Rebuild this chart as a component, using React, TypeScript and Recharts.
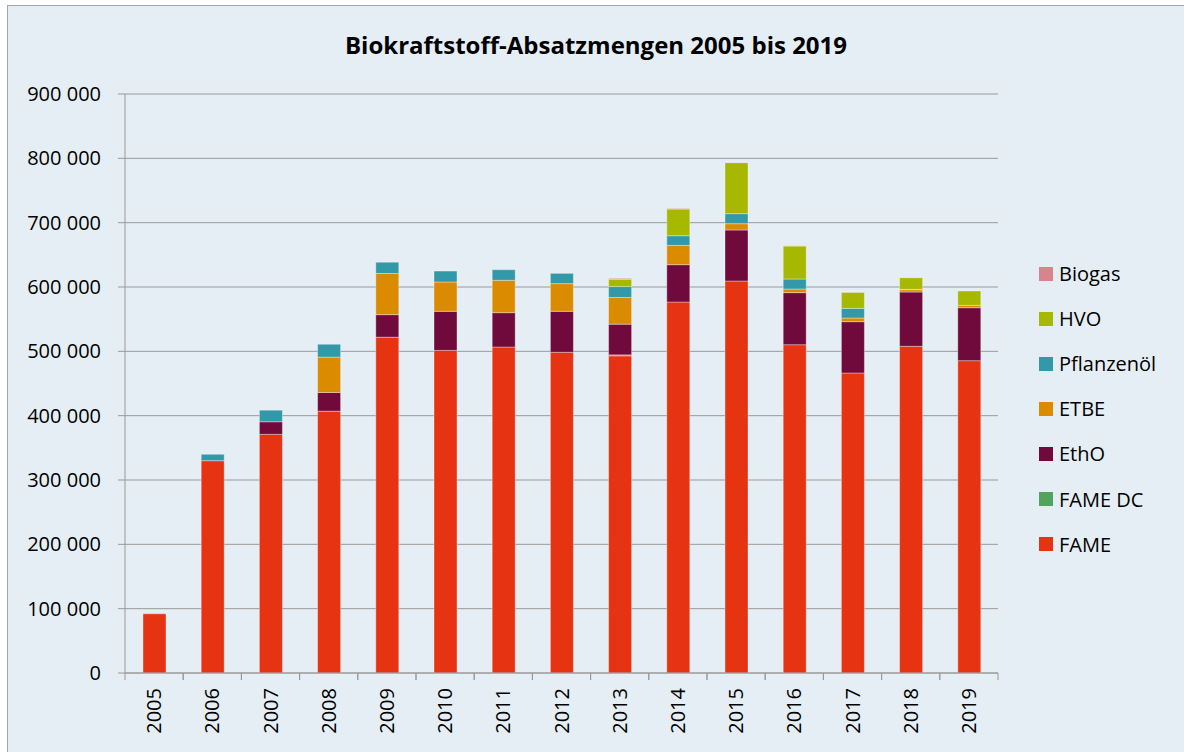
import React from 'react';
import { BarChart, Bar, XAxis, YAxis, CartesianGrid, Legend } from 'recharts';

const years = ['2005','2006','2007','2008','2009','2010','2011','2012','2013','2014','2015','2016','2017','2018','2019'];
const fame = [92000, 330000, 371000, 407000, 522000, 501500, 506700, 498500, 493000, 576700, 609300, 510300, 466300, 507800, 485500];
const fameDc = [0, 0, 0, 0, 0, 0, 0, 0, 1500, 0, 0, 0, 0, 0, 0];
const etho = [0, 0, 19500, 29000, 35000, 60700, 53400, 63700, 47700, 58000, 79300, 80900, 79800, 84400, 82300];
const etbe = [0, 0, 0, 55000, 64000, 45600, 50300, 43000, 41500, 30000, 9800, 5700, 5700, 3600, 3700];
const pflanzenoel = [0, 10000, 18000, 20000, 17500, 17000, 16500, 16000, 17000, 15000, 15600, 15500, 15000, 500, 0];
const hvo = [0, 0, 0, 0, 0, 0, 0, 0, 11300, 41500, 79300, 51300, 25000, 18000, 22300];
const biogas = [0, 0, 0, 0, 0, 0, 0, 0, 1500, 1000, 500, 500, 500, 0, 0];
const yTicks = [0, 100000, 200000, 300000, 400000, 500000, 600000, 700000, 800000, 900000];

const series = [
  { key: 'FAME', name: 'FAME', color: '#E63312', values: fame },
  { key: 'FAMEDC', name: 'FAME DC', color: '#52A35C', values: fameDc },
  { key: 'EthO', name: 'EthO', color: '#700A3C', values: etho },
  { key: 'ETBE', name: 'ETBE', color: '#DB8B00', values: etbe },
  { key: 'Pfl', name: 'Pflanzenöl', color: '#3399A8', values: pflanzenoel },
  { key: 'HVO', name: 'HVO', color: '#A7B800', values: hvo },
  { key: 'Biogas', name: 'Biogas', color: '#D9848A', values: biogas },
];

const data = years.map((y, i) => {
  const row: any = { year: y };
  series.forEach(s => { row[s.key] = s.values[i]; });
  return row;
});

const FONT = '"Open Sans", "Liberation Sans", sans-serif';

const fmt = (v: number) => String(v).replace(/\B(?=(\d{3})+(?!\d))/g, ' ');

const XTick = (props: any) => {
  const { x, y, payload } = props;
  const half = 29.1;
  return (
    <g>
      <line x1={x - half} x2={x - half} y1={y} y2={y + 7} stroke="#999" />
      <line x1={x + half} x2={x + half} y1={y} y2={y + 7} stroke="#999" />
      <text
        transform={`translate(${x + 7},${y + 15}) rotate(-90)`}
        textAnchor="end"
        fontSize={20}
        fontFamily={FONT}
        fill="#000"
      >
        {payload.value}
      </text>
    </g>
  );
};

const LegendContent = () => (
  <div style={{ fontFamily: FONT, fontSize: 20, color: '#000' }}>
    {[...series].reverse().map(s => (
      <div key={s.key} style={{ height: 45.1, display: 'flex', alignItems: 'center' }}>
        <span style={{ width: 14, height: 14, background: s.color, display: 'inline-block', marginRight: 6 }} />
        <span>{s.name}</span>
      </div>
    ))}
  </div>
);

export default function App() {
  return (
    <div
      style={{
        position: 'absolute',
        left: 7,
        top: 5,
        width: 1190,
        height: 760,
        border: '1px solid #A6A6A6',
        background: '#E5EEF4',
      }}
    >
      <div
        style={{
          position: 'absolute',
          left: 0,
          top: 22,
          width: 1176,
          textAlign: 'center',
          fontFamily: FONT,
          fontWeight: 700,
          fontSize: 24,
          color: '#000',
        }}
      >
        Biokraftstoff-Absatzmengen 2005 bis 2019
      </div>
      <BarChart
        width={1176}
        height={746}
        data={data}
        margin={{ top: 88, right: 186, bottom: 9, left: 0 }}
        barSize={23}
      >
        <CartesianGrid vertical={false} stroke="#9a9a9a" />
        <XAxis
          dataKey="year"
          axisLine={{ stroke: '#999' }}
          tickLine={false}
          tickSize={0}
          tickMargin={0}
          height={70}
          interval={0}
          tick={<XTick />}
        />
        <YAxis
          width={117}
          domain={[0, 900000]}
          ticks={yTicks}
          tickFormatter={fmt}
          axisLine={{ stroke: '#999' }}
          tickLine={{ stroke: '#999' }}
          tickSize={7}
          tickMargin={17}
          tick={{ fontSize: 20, fontFamily: FONT, fill: '#000' }}
          interval={0}
        />
        <Legend
          layout="vertical"
          align="center"
          verticalAlign="middle"
          content={<LegendContent />}
          wrapperStyle={{ left: 1031, top: 245, width: 140 }}
        />
        {series.map(s => (
          <Bar
            key={s.key}
            dataKey={s.key}
            name={s.name}
            stackId="a"
            fill={s.color}
            stroke="#ffffff"
            strokeOpacity={0.35}
            strokeWidth={1}
            isAnimationActive={false}
          />
        ))}
      </BarChart>
    </div>
  );
}
